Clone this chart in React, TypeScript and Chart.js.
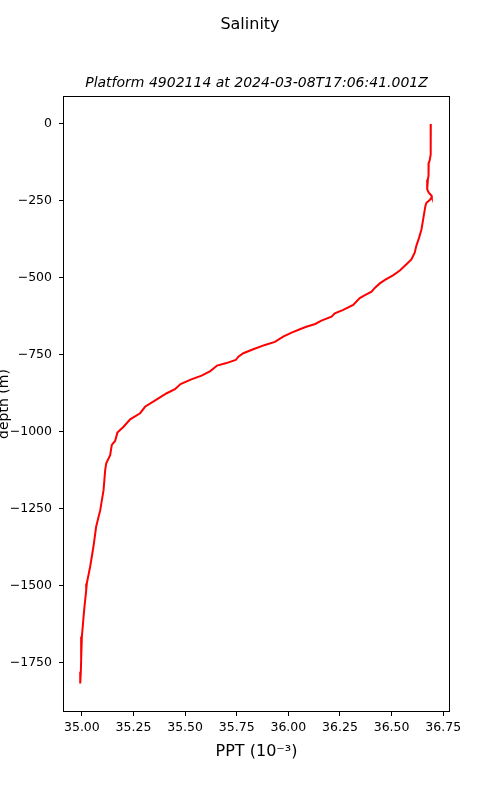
import React, { useEffect, useRef } from "react";
import { Chart, registerables } from "chart.js";

Chart.register(...registerables);

const TITLE = "Salinity";
const SUBTITLE = "Platform 4902114 at 2024-03-08T17:06:41.001Z";
const X_LABEL = "PPT (10\u207B\u00B3)";
const Y_LABEL = "depth (m)";

const X_TICKS = [35.0, 35.25, 35.5, 35.75, 36.0, 36.25, 36.5, 36.75];
const Y_TICKS = [0, -250, -500, -750, -1000, -1250, -1500, -1750];

const DEPTH = [
  0, -50, -100, -120, -126, -169, -180, -196, -212, -223, -232, -238, -246, -256, -266,
  -310, -342, -370, -396, -418, -440, -456, -476, -492, -506, -518, -532, -545, -556,
  -566, -588, -604, -615, -626, -639, -650, -659, -667, -678, -691, -708, -718, -732,
  -745, -756, -767, -777, -785, -803, -818, -830, -845, -862, -875, -895, -919, -940,
  -960, -984, -1003, -1030, -1043, -1076, -1103, -1124, -1190, -1255, -1309, -1374,
  -1439, -1493, -1515, -1580, -1666, -1700, -1742, -1780, -1818,
];

const SALINITY = [
  36.69, 36.69, 36.689, 36.684, 36.68, 36.679, 36.676, 36.673, 36.672, 36.68, 36.692,
  36.695, 36.686, 36.669, 36.664, 36.653, 36.645, 36.633, 36.62, 36.612, 36.596, 36.572,
  36.54, 36.507, 36.47, 36.443, 36.42, 36.403, 36.371, 36.346, 36.314, 36.266, 36.225,
  36.209, 36.16, 36.13, 36.087, 36.056, 36.016, 35.975, 35.935, 35.887, 35.83, 35.782,
  35.758, 35.745, 35.7, 35.655, 35.622, 35.58, 35.53, 35.478, 35.451, 35.411, 35.363,
  35.306, 35.282, 35.234, 35.202, 35.172, 35.161, 35.145, 35.137, 35.118, 35.113,
  35.105, 35.089, 35.069, 35.056, 35.04, 35.024, 35.021, 35.011, 35.0, 34.996, 34.997,
  34.995, 34.992,
];

const FONT = '"DejaVu Sans", sans-serif';

const decorPlugin = {
  id: "decor",
  afterDraw(chart: any) {
    const { ctx, chartArea } = chart;
    const { left, top, right, bottom } = chartArea;
    ctx.save();
    ctx.strokeStyle = "#000";
    ctx.lineWidth = 1;
    ctx.strokeRect(left + 0.5, top + 0.5, right - left - 1, bottom - top - 1);
    ctx.fillStyle = "#000";
    ctx.textAlign = "center";
    ctx.textBaseline = "middle";
    ctx.font = `16px ${FONT}`;
    ctx.fillText(TITLE, 250, 25);
    ctx.font = `italic 14px ${FONT}`;
    ctx.fillText(SUBTITLE, (left + right) / 2, 83.5);
    ctx.font = `16px ${FONT}`;
    ctx.fillText(X_LABEL, (left + right) / 2, 752);
    ctx.translate(4.5, (top + bottom) / 2);
    ctx.rotate(-Math.PI / 2);
    ctx.font = `14px ${FONT}`;
    ctx.fillText(Y_LABEL, 0, 0);
    ctx.restore();
  },
};

export default function App() {
  const ref = useRef<HTMLCanvasElement | null>(null);
  useEffect(() => {
    if (!ref.current) return;
    const points = DEPTH.map((d, i) => ({ x: SALINITY[i], y: d }));
    const tickFont = { family: FONT, size: 12.5 };
    const chart = new Chart(ref.current, {
      type: "scatter",
      data: {
        datasets: [
          {
            data: points,
            showLine: true,
            borderColor: "#ff0000",
            backgroundColor: "#ff0000",
            borderWidth: 2,
            pointRadius: 0,
            tension: 0,
          },
        ],
      },
      options: {
        animation: false,
        responsive: false,
        devicePixelRatio: 1,
        layout: { padding: { top: 96, right: 50, bottom: 48, left: 0 } },
        plugins: { legend: { display: false }, tooltip: { enabled: false }, title: { display: false } },
        scales: {
          x: {
            type: "linear",
            position: "bottom",
            min: 34.9086,
            max: 36.783,
            afterBuildTicks: (s: any) => {
              s.ticks = X_TICKS.map((v) => ({ value: v }));
            },
            afterFit: (s: any) => {
              s.height = 40;
            },
            ticks: {
              autoSkip: false,
              maxRotation: 0,
              padding: 4,
              color: "#000",
              font: tickFont,
              callback: (v: any) => Number(v).toFixed(2),
            },
            grid: { display: true, drawOnChartArea: false, drawTicks: true, tickLength: 4, color: "#000" },
            border: { display: false },
          },
          y: {
            type: "linear",
            min: -1911,
            max: 91,
            afterBuildTicks: (s: any) => {
              s.ticks = Y_TICKS.map((v) => ({ value: v }));
            },
            afterFit: (s: any) => {
              s.width = 63;
            },
            ticks: {
              autoSkip: false,
              padding: 7,
              color: "#000",
              font: tickFont,
              callback: (v: any) => (Number(v) < 0 ? "\u2212" + Math.abs(Number(v)) : String(v)),
            },
            grid: { display: true, drawOnChartArea: false, drawTicks: true, tickLength: 4, color: "#000" },
            border: { display: false },
          },
        },
      },
      plugins: [decorPlugin],
    });
    return () => chart.destroy();
  }, []);
  return (
    <div style={{ position: "absolute", left: 0, top: 0, width: 500, height: 800, background: "#fff" }}>
      <canvas ref={ref} width={500} height={800} style={{ width: 500, height: 800 }} />
    </div>
  );
}
